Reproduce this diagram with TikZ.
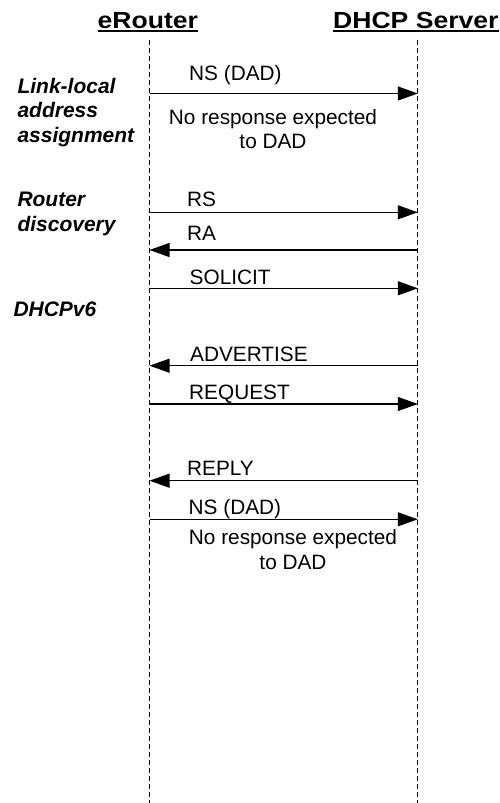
\documentclass[tikz,border=0pt]{standalone}
\usepackage{fontspec}
\setmainfont{Liberation Sans}
\newfontfamily\headfont{Liberation Sans}[FakeStretch=1.14]
\usetikzlibrary{arrows.meta}
\begin{document}
\begin{tikzpicture}[x=1pt,y=1pt,
  lifeline/.style={line width=0.8pt,dash pattern=on 5pt off 3pt},
  msg/.style={line width=1.1pt,-{Triangle[length=20pt,width=14pt]}},
  lbl/.style={anchor=base west,inner sep=0pt,font=\fontsize{20.8}{24}\selectfont},
  note/.style={anchor=base,inner sep=0pt,font=\fontsize{20.8}{24}\selectfont},
  phase/.style={anchor=base west,inner sep=0pt,font=\fontsize{21}{24}\selectfont\bfseries\itshape},
  head/.style={anchor=base west,inner sep=0pt,font=\headfont\fontsize{23.3}{26}\selectfont\bfseries},
  uline/.style={line width=1.8pt}]
\useasboundingbox (0,0) rectangle (499,-803);
% headers
\node[head] (h1) at (97.5,-28.3) {eRouter};
\node[head] (h2) at (333,-28.3) {DHCP Server};
\draw[uline] ([yshift=-3pt]h1.base west) -- ([yshift=-3pt]h1.base east);
\draw[uline] ([yshift=-3pt]h2.base west) -- ([yshift=-3pt]h2.base east);
% lifelines
\coordinate (lt) at (149.5,-40);
\coordinate (lb) at (149.5,-803);
\coordinate (rt) at (417.8,-40);
\coordinate (rb) at (417.8,-803);
\draw[lifeline] (lt) -- (lb);
\draw[lifeline] (rt) -- (rb);
% phase labels
\node[phase] (p1a) at (17.3,-93) {Link-local};
\node[phase] (p1b) at (17.3,-117.5) {address};
\node[phase] (p1c) at (17.3,-142) {assignment};
\node[phase] (p2a) at (17.3,-206.7) {Router};
\node[phase] (p2b) at (17.3,-231.2) {discovery};
\node[phase] (p3) at (13.3,-316.5) {DHCPv6};
% messages
\coordinate (e1) at (149.5,-93.5);  \coordinate (s1) at (417.8,-93.5);
\draw[msg] (e1) -- (s1);
\node[lbl] (m1) at (189,-80) {NS (DAD)};
\node[note] (n1a) at (273,-124) {No response expected};
\node[note] (n1b) at (273,-148.3) {to DAD};

\coordinate (e2) at (149.5,-212.3);  \coordinate (s2) at (417.8,-212.3);
\draw[msg] (e2) -- (s2);
\node[lbl] (m2) at (187,-206.7) {RS};

\coordinate (e3) at (149.5,-250);  \coordinate (s3) at (417.8,-250);
\draw[msg] (s3) -- (e3);
\node[lbl] (m3) at (187,-240) {RA};

\coordinate (e4) at (149.5,-288.3);  \coordinate (s4) at (417.8,-288.3);
\draw[msg] (e4) -- (s4);
\node[lbl] (m4) at (189.5,-284.3) {SOLICIT};

\coordinate (e5) at (149.5,-365.7);  \coordinate (s5) at (417.8,-365.7);
\draw[msg] (s5) -- (e5);
\node[lbl] (m5) at (190,-361) {ADVERTISE};

\coordinate (e6) at (149.5,-404);  \coordinate (s6) at (417.8,-404);
\draw[msg] (e6) -- (s6);
\node[lbl] (m6) at (189,-399) {REQUEST};

\coordinate (e7) at (149.5,-480.7);  \coordinate (s7) at (417.8,-480.7);
\draw[msg] (s7) -- (e7);
\node[lbl] (m7) at (187,-475.7) {REPLY};

\coordinate (e8) at (149.5,-519.3);  \coordinate (s8) at (417.8,-519.3);
\draw[msg] (e8) -- (s8);
\node[lbl] (m8) at (188.5,-514) {NS (DAD)};
\node[note] (n2a) at (293,-544) {No response expected};
\node[note] (n2b) at (293,-569.5) {to DAD};
\end{tikzpicture}
\end{document}
